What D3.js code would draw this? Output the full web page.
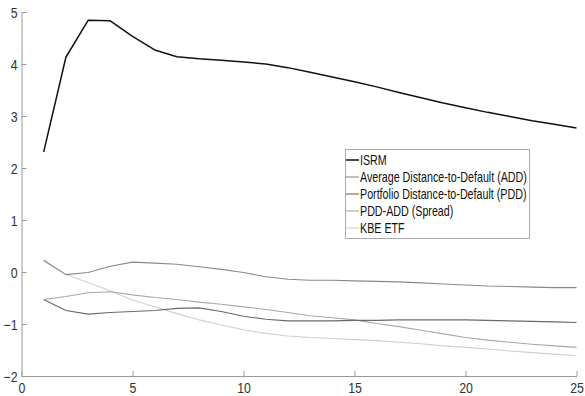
<!DOCTYPE html>
<html><head><meta charset="utf-8">
<script src="https://cdn.jsdelivr.net/npm/d3@7"></script>
<style>body{margin:0;background:#fff}svg{display:block}text{font-family:"Liberation Sans",Arial,Helvetica,sans-serif}</style>
</head><body>
<svg id="c" width="585" height="396"></svg>
<script>
const horizons = d3.range(1, 26);
const isrm   = [2.31,4.13,4.84,4.83,4.53,4.27,4.14,4.10,4.07,4.04,4.00,3.93,3.84,3.75,3.66,3.56,3.45,3.35,3.25,3.16,3.07,2.99,2.91,2.84,2.77];
const add    = [0.22,-0.05,-0.01,0.11,0.19,0.17,0.15,0.10,0.05,-0.01,-0.09,-0.14,-0.16,-0.16,-0.17,-0.18,-0.19,-0.21,-0.23,-0.25,-0.27,-0.28,-0.29,-0.30,-0.30];
const pdd    = [-0.53,-0.74,-0.81,-0.78,-0.76,-0.74,-0.70,-0.69,-0.76,-0.85,-0.91,-0.94,-0.94,-0.94,-0.93,-0.93,-0.92,-0.92,-0.92,-0.92,-0.93,-0.94,-0.95,-0.96,-0.97];
const spread = [-0.53,-0.47,-0.40,-0.38,-0.44,-0.49,-0.53,-0.58,-0.62,-0.67,-0.72,-0.78,-0.84,-0.88,-0.92,-0.99,-1.05,-1.12,-1.19,-1.26,-1.31,-1.35,-1.39,-1.42,-1.45];
const kbe    = [0.23,-0.05,-0.20,-0.36,-0.54,-0.67,-0.80,-0.92,-1.02,-1.11,-1.18,-1.23,-1.26,-1.28,-1.30,-1.32,-1.35,-1.38,-1.42,-1.45,-1.48,-1.52,-1.55,-1.58,-1.61];
const seriesNames = ["ISRM","Average Distance-to-Default (ADD)","Portfolio Distance-to-Default (PDD)","PDD-ADD (Spread)","KBE ETF"];
const xTicks = [0,5,10,15,20,25];
const yTicks = [-2,-1,0,1,2,3,4,5];

const series = [
  {name: seriesNames[0], values: isrm,   color: "#111111", width: 1.5},
  {name: seriesNames[1], values: add,    color: "#8a8a8a", width: 1.1},
  {name: seriesNames[2], values: pdd,    color: "#6a6a6a", width: 1.1},
  {name: seriesNames[3], values: spread, color: "#a8a8a8", width: 1.1},
  {name: seriesNames[4], values: kbe,    color: "#cfcfcf", width: 1.1}
];

const svg = d3.select("#c");
const L = 21.5, R = 576.5, T = 12, B = 376;
const x = d3.scaleLinear().domain([0,25]).range([L,R]);
const y = d3.scaleLinear().domain([-2,5]).range([B,T]);
const axisColor = "#9a9a9a", labelColor = "#333";
const sx = 0.85;

// axes
const gx = svg.append("g").attr("transform",`translate(0,${B})`)
  .call(d3.axisBottom(x).tickValues(xTicks).tickSizeInner(-5).tickSizeOuter(0).tickFormat(d3.format("d")));
const gy = svg.append("g").attr("transform",`translate(${L},0)`)
  .call(d3.axisLeft(y).tickValues(yTicks).tickSizeInner(-5).tickSizeOuter(0).tickFormat(d3.format("d")));
[gx,gy].forEach(g=>{
  g.select(".domain").attr("stroke",axisColor).attr("stroke-width",1);
  g.selectAll(".tick line").attr("stroke",axisColor);
  g.selectAll(".tick text").attr("fill",labelColor).attr("font-size",14.5).attr("font-family","Liberation Sans, Arial, sans-serif");
});
gx.selectAll(".tick text").attr("y",null).attr("dy",null)
  .attr("transform",`translate(0,16.5) scale(${sx},1)`);
gy.selectAll(".tick text").attr("x",null).attr("dy","0.35em")
  .attr("transform",`translate(-4,0) scale(${sx},1)`);

// lines
const line = d3.line().x((d,i)=>x(horizons[i])).y(d=>y(d));
svg.append("g").selectAll("path").data(series.slice().reverse()).join("path")
  .attr("d",d=>line(d.values)).attr("fill","none")
  .attr("stroke",d=>d.color).attr("stroke-width",d=>d.width).attr("stroke-linejoin","round");

// legend
const lg = svg.append("g");
lg.append("rect").attr("x",345.5).attr("y",149.5).attr("width",184).attr("height",89)
  .attr("fill","#fff").attr("stroke","#aaaaaa").attr("stroke-width",1);
const rowY = i => 160 + i*17;
lg.selectAll("line.s").data(series).join("line").attr("class","s")
  .attr("x1",346).attr("x2",359).attr("y1",(d,i)=>rowY(i)).attr("y2",(d,i)=>rowY(i))
  .attr("stroke",d=>d.color).attr("stroke-width",d=>d.width);
const texts = lg.selectAll("text").data(series).join("text")
  .attr("font-size",14).attr("fill","#111").attr("dy","0.35em")
  .text(d=>d.name);
const w = texts.filter((d,i)=>i===1).node().getComputedTextLength();
const k = 167 / w;
texts.attr("transform",(d,i)=>`translate(360,${rowY(i)}) scale(${k},1)`);
</script>
</body></html>
